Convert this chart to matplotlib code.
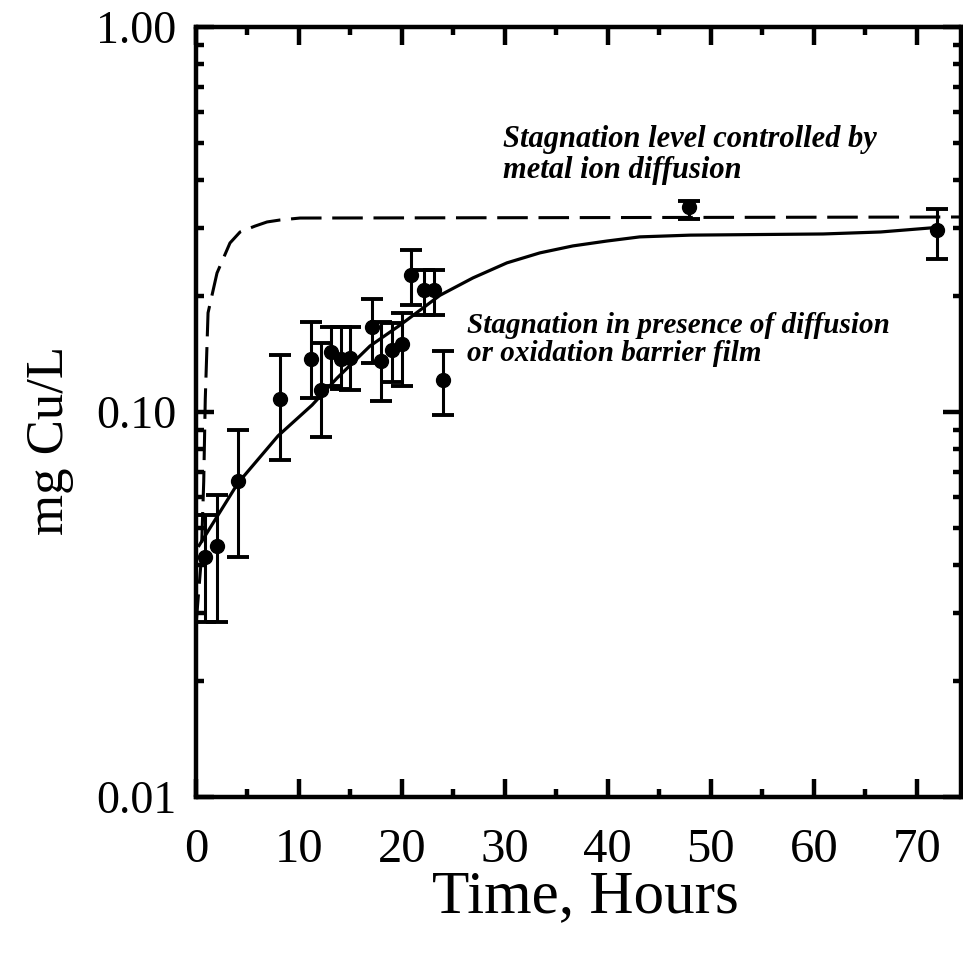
import matplotlib
matplotlib.use("Agg")
import matplotlib.pyplot as plt
from matplotlib.ticker import FixedLocator, LogLocator, NullFormatter, FixedFormatter

# ---- data ----
time_h = [0.9, 2.0, 4.1, 8.2, 11.2, 12.1, 13.1, 14.1, 15.0, 17.1, 18.0, 19.0,
          20.0, 20.9, 22.1, 23.1, 24.0, 47.9, 72.0]
cu_mgL = [0.042, 0.045, 0.066, 0.108, 0.137, 0.114, 0.143, 0.137, 0.138, 0.166,
          0.136, 0.145, 0.150, 0.227, 0.207, 0.207, 0.121, 0.340, 0.297]
cu_upper = [0.054, 0.061, 0.090, 0.141, 0.171, 0.151, 0.166, 0.166, 0.166, 0.196,
            0.171, 0.170, 0.181, 0.264, 0.234, 0.234, 0.144, 0.354, 0.337]
cu_lower = [0.0285, 0.0285, 0.042, 0.075, 0.109, 0.086, 0.117, 0.115, 0.114, 0.134,
            0.107, 0.1195, 0.117, 0.190, 0.179, 0.179, 0.098, 0.317, 0.250]

# fitted curve (solid): stagnation with barrier film
fit_t = [0.3, 4.08, 7.97, 11.27, 13.7, 16.9, 19.8, 23.7, 26.9, 30.2, 33.4, 36.6,
         39.9, 43.1, 48.0, 60.9, 66.5, 71.3]
fit_c = [0.045, 0.0654, 0.0867, 0.1042, 0.1225, 0.1484, 0.168, 0.201, 0.223, 0.244,
         0.259, 0.270, 0.278, 0.285, 0.288, 0.290, 0.2935, 0.3006]

# diffusion-controlled curve (dashed)
diff_t = [0.0, 0.5, 0.75, 0.9, 1.17, 2.04, 3.3, 4.28, 5.73, 6.9, 8.16, 10.1, 74.3]
diff_c = [0.028, 0.041, 0.066, 0.108, 0.181, 0.2296, 0.2748, 0.2935, 0.304, 0.3116,
          0.3153, 0.319, 0.321]

x_ticks = [0, 10, 20, 30, 40, 50, 60, 70]
y_ticks = [0.01, 0.1, 1.0]
y_ticklabels = ["0.01", "0.10", "1.00"]

note1 = "Stagnation level controlled by\nmetal ion diffusion"
note2 = "Stagnation in presence of diffusion\nor oxidation barrier film"

plt.rcParams['font.family'] = ['Liberation Serif', 'DejaVu Serif']

fig = plt.figure(figsize=(9.63, 9.61), dpi=100)
ax = fig.add_axes([196/963, 1-797/961, (961-196)/963, (797-27)/961])

ax.set_yscale('log')
ax.set_xlim(0, 74.3)
ax.set_ylim(0.01, 1.0)

ax.plot(diff_t, diff_c, color='black', lw=2.2, linestyle=(0, (10, 3.5)))
ax.plot(fit_t, fit_c, color='black', lw=2.3)
ax.errorbar(time_h, cu_mgL,
            yerr=[[c - lo for c, lo in zip(cu_mgL, cu_lower)],
                  [hi - c for c, hi in zip(cu_mgL, cu_upper)]],
            fmt='o', color='black', ms=10, elinewidth=2.2, capsize=8, capthick=2.8)

ax.text(29.8, 0.465, note1, fontsize=22, style='italic', weight='bold',
        ha='left', va='center', linespacing=1.05)
ax.text(26.3, 0.154, note2, fontsize=21, style='italic', weight='bold',
        ha='left', va='center', linespacing=1.05)

# ticks
ax.xaxis.set_major_locator(FixedLocator(x_ticks))
ax.xaxis.set_minor_locator(FixedLocator([5, 15, 25, 35, 45, 55, 65]))
ax.yaxis.set_major_locator(FixedLocator(y_ticks))
ax.yaxis.set_major_formatter(FixedFormatter(y_ticklabels))
ax.yaxis.set_minor_locator(LogLocator(base=10, subs=range(2, 10)))
ax.yaxis.set_minor_formatter(NullFormatter())

ax.tick_params(which='both', direction='in', top=True, right=True, width=3.2)
ax.tick_params(which='major', length=13)
ax.tick_params(which='minor', length=6)
ax.tick_params(axis='x', which='major', labelsize=35, pad=22)
ax.tick_params(axis='y', which='major', labelsize=33, pad=14)

for s in ax.spines.values():
    s.set_linewidth(3.2)

fig.text(50/963, 1-440/961, "mg Cu/L", rotation=90, fontsize=38, ha='center', va='center')
fig.text(585/963, 1-897/961, "Time, Hours", fontsize=44, ha='center', va='center')

fig.savefig("out.png", dpi=100)
